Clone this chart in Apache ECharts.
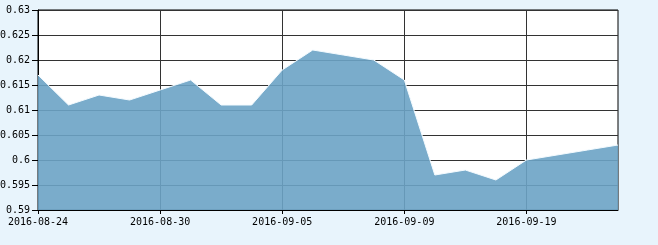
<!DOCTYPE html>
<html>
<head>
<meta charset="utf-8">
<script src="https://cdn.jsdelivr.net/npm/echarts@6/dist/echarts.min.js"></script>
<style>
html,body{margin:0;padding:0;background:#e8f4fc;}
#c{width:658px;height:245px;}
</style>
</head>
<body>
<div id="c"></div>
<script>
var dates = ['2016-08-24','2016-08-25','2016-08-26','2016-08-29','2016-08-30','2016-08-31','2016-09-01','2016-09-02','2016-09-05','2016-09-06','2016-09-07','2016-09-08','2016-09-09','2016-09-12','2016-09-13','2016-09-14','2016-09-19','2016-09-20','2016-09-21','2016-09-22'];
var values = [0.617,0.611,0.613,0.612,0.614,0.616,0.611,0.611,0.618,0.622,0.621,0.620,0.616,0.597,0.598,0.596,0.600,0.601,0.602,0.603];
var yMin = 0.59, yMax = 0.63, yStep = 0.005;

var chart = echarts.init(document.getElementById('c'), null, {renderer:'canvas'});
var font = 'DejaVu Sans Mono';
chart.setOption({
  backgroundColor: '#e8f4fc',
  animation: false,
  grid: {left: 38, right: 40, top: 10, bottom: 35, containLabel: false, outerBoundsMode: 'none', show: true, backgroundColor: '#ffffff', borderColor: '#000', borderWidth: 1},
  xAxis: {
    type: 'category', data: dates, boundaryGap: false,
    axisLine: {lineStyle: {color: '#000', width: 1}},
    axisTick: {show: true, interval: 3, length: 4, lineStyle: {color: '#000'}},
    axisLabel: {interval: 3, color: '#000', fontFamily: font, fontSize: 10, margin: 7, hideOverlap: false},
    splitLine: {show: true, interval: 3, lineStyle: {color: '#333', width: 1}}
  },
  yAxis: {
    type: 'value', min: yMin, max: yMax, interval: yStep,
    axisLine: {show: true, lineStyle: {color: '#000', width: 1}},
    axisTick: {show: true, length: 6, lineStyle: {color: '#000'}},
    axisLabel: {color: '#000', fontFamily: font, fontSize: 10, margin: 8,
      formatter: function(v){ return String(parseFloat(v.toFixed(3))); }},
    splitLine: {show: true, lineStyle: {color: '#333', width: 1}}
  },
  series: [{
    type: 'line', data: values, symbol: 'none',
    lineStyle: {color: '#f4fbff', width: 1},
    areaStyle: {color: 'rgb(107,163,197)', opacity: 0.9, origin: 'start'},
    z: 3
  }]
});
</script>
</body>
</html>
